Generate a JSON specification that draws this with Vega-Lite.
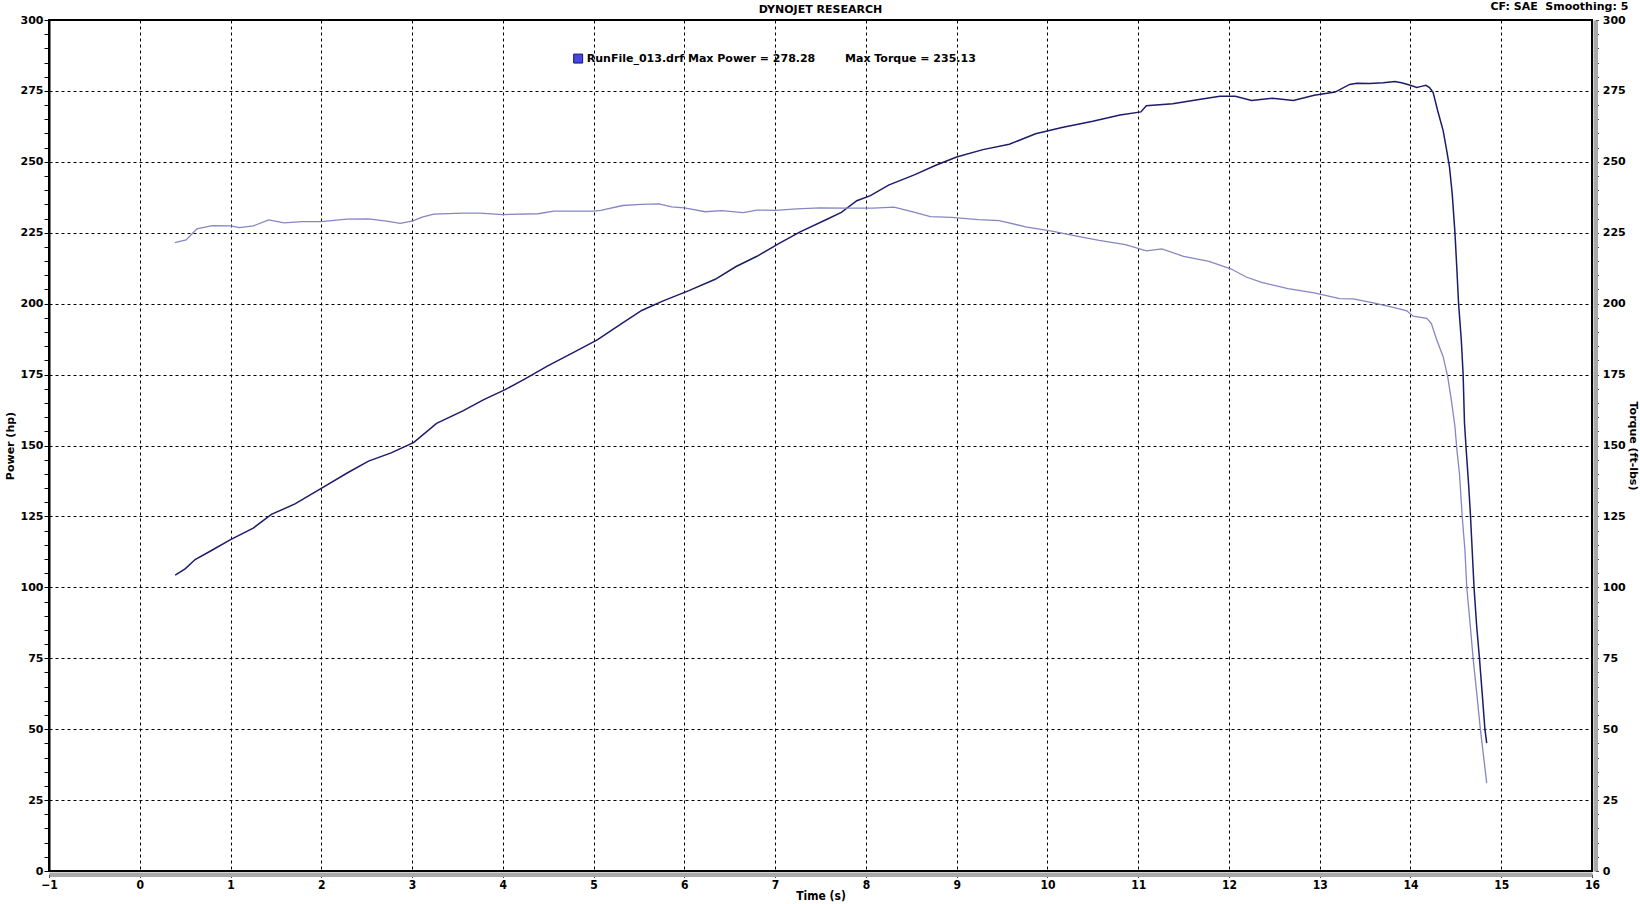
{
  "$schema": "https://vega.github.io/schema/vega-lite/v6.json",
  "width": 1543,
  "height": 851,
  "autosize": {"type": "none"},
  "padding": {"left": 49, "top": 20, "right": 48, "bottom": 33},
  "background": "white",
  "datasets": {
    "power": [
      {"time": 0.39, "hp": 104.3}, {"time": 0.5, "hp": 106.5}, {"time": 0.61, "hp": 109.8},
      {"time": 0.78, "hp": 112.8}, {"time": 1.0, "hp": 116.8}, {"time": 1.25, "hp": 120.9},
      {"time": 1.45, "hp": 125.7}, {"time": 1.71, "hp": 129.4}, {"time": 2.0, "hp": 134.9},
      {"time": 2.29, "hp": 140.4}, {"time": 2.52, "hp": 144.5}, {"time": 2.77, "hp": 147.4},
      {"time": 3.02, "hp": 151.1}, {"time": 3.27, "hp": 157.8}, {"time": 3.56, "hp": 162.2},
      {"time": 3.79, "hp": 166.2}, {"time": 4.02, "hp": 169.6}, {"time": 4.25, "hp": 173.6},
      {"time": 4.49, "hp": 178.0}, {"time": 4.78, "hp": 182.8}, {"time": 5.04, "hp": 187.2},
      {"time": 5.3, "hp": 192.8}, {"time": 5.53, "hp": 197.6}, {"time": 5.76, "hp": 200.9},
      {"time": 6.05, "hp": 204.6}, {"time": 6.34, "hp": 208.6}, {"time": 6.57, "hp": 213.1},
      {"time": 6.8, "hp": 216.7}, {"time": 7.04, "hp": 221.2}, {"time": 7.27, "hp": 225.2},
      {"time": 7.56, "hp": 229.6}, {"time": 7.73, "hp": 232.2}, {"time": 7.9, "hp": 236.3},
      {"time": 8.05, "hp": 238.1}, {"time": 8.25, "hp": 241.8}, {"time": 8.54, "hp": 245.5},
      {"time": 8.77, "hp": 248.8}, {"time": 9.0, "hp": 251.7}, {"time": 9.29, "hp": 254.3},
      {"time": 9.58, "hp": 256.2}, {"time": 9.87, "hp": 259.9}, {"time": 10.16, "hp": 262.1},
      {"time": 10.5, "hp": 264.3}, {"time": 10.8, "hp": 266.5}, {"time": 11.03, "hp": 267.6},
      {"time": 11.09, "hp": 269.8}, {"time": 11.38, "hp": 270.5}, {"time": 11.67, "hp": 272.0},
      {"time": 11.9, "hp": 273.1}, {"time": 12.07, "hp": 273.1}, {"time": 12.25, "hp": 271.6},
      {"time": 12.48, "hp": 272.4}, {"time": 12.71, "hp": 271.6}, {"time": 12.94, "hp": 273.5},
      {"time": 13.17, "hp": 274.6}, {"time": 13.33, "hp": 277.3}, {"time": 13.41, "hp": 277.7},
      {"time": 13.55, "hp": 277.6}, {"time": 13.7, "hp": 277.9}, {"time": 13.83, "hp": 278.3},
      {"time": 13.9, "hp": 277.9}, {"time": 13.99, "hp": 277.1}, {"time": 14.07, "hp": 276.2},
      {"time": 14.12, "hp": 276.6}, {"time": 14.17, "hp": 277.0}, {"time": 14.21, "hp": 276.2},
      {"time": 14.25, "hp": 274.4}, {"time": 14.3, "hp": 268.0}, {"time": 14.36, "hp": 261.0},
      {"time": 14.4, "hp": 253.9}, {"time": 14.43, "hp": 248.1}, {"time": 14.46, "hp": 238.7},
      {"time": 14.49, "hp": 225.0}, {"time": 14.51, "hp": 212.9}, {"time": 14.53, "hp": 200.0},
      {"time": 14.56, "hp": 187.2}, {"time": 14.58, "hp": 175.1}, {"time": 14.595, "hp": 158.0},
      {"time": 14.615, "hp": 148.0}, {"time": 14.64, "hp": 136.5}, {"time": 14.66, "hp": 126.0},
      {"time": 14.68, "hp": 113.1}, {"time": 14.7, "hp": 100.1}, {"time": 14.73, "hp": 86.1},
      {"time": 14.76, "hp": 75.0}, {"time": 14.79, "hp": 62.7}, {"time": 14.82, "hp": 50.0},
      {"time": 14.84, "hp": 45.1}
    ],
    "torque": [
      {"time": 0.386, "tq": 221.5}, {"time": 0.51, "tq": 222.5}, {"time": 0.63, "tq": 226.4},
      {"time": 0.8, "tq": 227.5}, {"time": 1.0, "tq": 227.4}, {"time": 1.1, "tq": 226.8},
      {"time": 1.25, "tq": 227.4}, {"time": 1.42, "tq": 229.5}, {"time": 1.59, "tq": 228.5},
      {"time": 1.79, "tq": 228.9}, {"time": 2.0, "tq": 228.9}, {"time": 2.28, "tq": 229.8},
      {"time": 2.52, "tq": 229.9}, {"time": 2.72, "tq": 229.1}, {"time": 2.87, "tq": 228.3},
      {"time": 3.01, "tq": 229.2}, {"time": 3.11, "tq": 230.5}, {"time": 3.24, "tq": 231.6},
      {"time": 3.56, "tq": 231.9}, {"time": 3.75, "tq": 231.9}, {"time": 4.0, "tq": 231.4},
      {"time": 4.39, "tq": 231.7}, {"time": 4.56, "tq": 232.6}, {"time": 5.0, "tq": 232.6},
      {"time": 5.08, "tq": 232.9}, {"time": 5.32, "tq": 234.6}, {"time": 5.52, "tq": 235.0},
      {"time": 5.72, "tq": 235.2}, {"time": 5.86, "tq": 234.1}, {"time": 6.0, "tq": 233.8},
      {"time": 6.23, "tq": 232.4}, {"time": 6.41, "tq": 232.8}, {"time": 6.65, "tq": 232.1},
      {"time": 6.8, "tq": 233.0}, {"time": 7.0, "tq": 232.9}, {"time": 7.24, "tq": 233.4},
      {"time": 7.49, "tq": 233.8}, {"time": 7.78, "tq": 233.7}, {"time": 8.08, "tq": 233.7},
      {"time": 8.31, "tq": 234.0}, {"time": 8.54, "tq": 232.2}, {"time": 8.71, "tq": 230.7},
      {"time": 8.94, "tq": 230.4}, {"time": 9.24, "tq": 229.6}, {"time": 9.47, "tq": 229.3},
      {"time": 9.76, "tq": 227.1}, {"time": 10.05, "tq": 225.6}, {"time": 10.28, "tq": 224.1},
      {"time": 10.57, "tq": 222.3}, {"time": 10.86, "tq": 220.8}, {"time": 11.09, "tq": 218.6},
      {"time": 11.26, "tq": 219.3}, {"time": 11.5, "tq": 216.7}, {"time": 11.78, "tq": 214.9},
      {"time": 12.02, "tq": 212.3}, {"time": 12.19, "tq": 209.4}, {"time": 12.36, "tq": 207.5},
      {"time": 12.65, "tq": 205.3}, {"time": 12.94, "tq": 203.8}, {"time": 13.22, "tq": 201.8},
      {"time": 13.37, "tq": 201.7}, {"time": 13.59, "tq": 200.3}, {"time": 13.81, "tq": 198.7},
      {"time": 13.96, "tq": 197.5}, {"time": 14.03, "tq": 195.6}, {"time": 14.18, "tq": 194.8},
      {"time": 14.23, "tq": 193.0}, {"time": 14.29, "tq": 187.2}, {"time": 14.36, "tq": 181.3},
      {"time": 14.41, "tq": 174.3}, {"time": 14.45, "tq": 166.1}, {"time": 14.49, "tq": 156.7},
      {"time": 14.51, "tq": 149.0}, {"time": 14.54, "tq": 140.0}, {"time": 14.57, "tq": 125.0},
      {"time": 14.6, "tq": 113.1}, {"time": 14.62, "tq": 100.1}, {"time": 14.66, "tq": 86.1},
      {"time": 14.69, "tq": 75.0}, {"time": 14.73, "tq": 62.7}, {"time": 14.77, "tq": 50.0},
      {"time": 14.81, "tq": 39.2}, {"time": 14.84, "tq": 31.0}
    ],
    "legend": [
      {"time": 4.925, "val": 286.2, "label": "RunFile_013.drf Max Power = 278.28"},
      {"time": 7.77, "val": 286.2, "label": "Max Torque = 235.13"}
    ],
    "swatch": [
      {"time": 4.83, "val": 286.4}
    ],
    "heading": [
      {"time": 7.5, "val": 303.7, "label": "DYNOJET RESEARCH"}
    ],
    "corner": [
      {"time": 16.4, "val": 304.6, "label": "CF: SAE\u00a0 Smoothing: 5"}
    ]
  },
  "layer": [
    {
      "data": {"name": "power"},
      "mark": {"type": "line", "color": "#1c1c6b", "strokeWidth": 1.5},
      "encoding": {
        "x": {
          "field": "time",
          "type": "quantitative",
          "scale": {"domain": [-1, 16], "nice": false, "zero": false},
          "axis": {
            "title": "Time (s)",
            "tickCount": 85,
            "format": "d",
            "labelExpr": "datum.value === round(datum.value) ? datum.label : ''",
            "labelOverlap": false,
            "labelFlush": false,
            "offset": 3.25,
            "domainColor": "#a9a9a9",
            "domainWidth": 4.5,
            "tickSize": 3,
            "grid": true,
            "gridColor": "black",
            "gridDash": [3, 3],
            "gridOpacity": {"condition": {"test": "datum.value === round(datum.value) && datum.value > -1 && datum.value < 16", "value": 1}, "value": 0},
            "labelFont": "DejaVu Sans Condensed, Roboto Condensed, Roboto",
            "labelFontSize": 12,
            "labelFontWeight": "bold",
            "labelPadding": 2,
            "titleFont": "DejaVu Sans Condensed, Roboto Condensed, Roboto",
            "titleFontSize": 12,
            "titleFontWeight": "bold",
            "titlePadding": 0
          }
        },
        "y": {
          "field": "hp",
          "type": "quantitative",
          "scale": {"domain": [0, 300], "nice": false},
          "axis": {
            "orient": "left",
            "title": "Power (hp)",
            "tickCount": 60,
            "format": "d",
            "labelExpr": "datum.value % 25 === 0 ? datum.label : ''",
            "labelOverlap": false,
            "labelFlush": false,
            "grid": true,
            "gridColor": "black",
            "gridDash": [3, 3],
            "gridOpacity": {"condition": {"test": "datum.value % 25 === 0 && datum.value > 0 && datum.value < 300", "value": 1}, "value": 0},
            "labelPadding": 1,
            "titlePadding": 5
          }
        }
      }
    },
    {
      "data": {"name": "torque"},
      "mark": {"type": "line", "color": "#8686c4", "strokeWidth": 1.3},
      "encoding": {
        "x": {"field": "time", "type": "quantitative"},
        "y": {
          "field": "tq",
          "type": "quantitative",
          "scale": {"domain": [0, 300], "nice": false},
          "axis": {
            "orient": "right",
            "title": "Torque (ft-lbs)",
            "titleAngle": 90,
            "tickCount": 60,
            "format": "d",
            "labelExpr": "datum.value % 25 === 0 ? datum.label : ''",
            "labelOverlap": false,
            "labelFlush": false,
            "offset": 3.25,
            "domainColor": "#a9a9a9",
            "domainWidth": 4.5,
            "tickSize": 3,
            "grid": false,
            "labelPadding": 4,
            "titlePadding": 2
          }
        }
      }
    },
    {
      "data": {"name": "swatch"},
      "mark": {"type": "square", "filled": true, "color": "#4848e0", "stroke": "#101080", "strokeWidth": 1, "size": 80, "opacity": 1},
      "encoding": {
        "x": {"field": "time", "type": "quantitative"},
        "y": {"field": "val", "type": "quantitative", "scale": {"domain": [0, 300], "nice": false}, "axis": null}
      }
    },
    {
      "data": {"name": "legend"},
      "mark": {"type": "text", "align": "left", "baseline": "middle", "font": "DejaVu Sans", "fontSize": 11, "fontWeight": "bold", "color": "black"},
      "encoding": {
        "x": {"field": "time", "type": "quantitative"},
        "y": {"field": "val", "type": "quantitative", "scale": {"domain": [0, 300], "nice": false}, "axis": null},
        "text": {"field": "label"}
      }
    },
    {
      "data": {"name": "heading"},
      "mark": {"type": "text", "align": "center", "baseline": "middle", "font": "DejaVu Sans", "fontSize": 11, "fontWeight": "bold", "color": "black"},
      "encoding": {
        "x": {"field": "time", "type": "quantitative"},
        "y": {"field": "val", "type": "quantitative", "scale": {"domain": [0, 300], "nice": false}, "axis": null},
        "text": {"field": "label"}
      }
    },
    {
      "data": {"name": "corner"},
      "mark": {"type": "text", "align": "right", "baseline": "middle", "font": "DejaVu Sans", "fontSize": 11, "fontWeight": "bold", "color": "black"},
      "encoding": {
        "x": {"field": "time", "type": "quantitative"},
        "y": {"field": "val", "type": "quantitative", "scale": {"domain": [0, 300], "nice": false}, "axis": null},
        "text": {"field": "label"}
      }
    }
  ],
  "resolve": {"scale": {"y": "independent"}},
  "config": {
    "view": {"stroke": "black", "strokeWidth": 2},
    "axis": {
      "domainColor": "black",
      "domainWidth": 2,
      "tickColor": "black",
      "tickSize": 5,
      "tickWidth": 1,
      "labelColor": "black",
      "labelFont": "DejaVu Sans",
      "labelFontSize": 11,
      "labelFontWeight": "bold",
      "titleColor": "black",
      "titleFont": "DejaVu Sans",
      "titleFontSize": 11,
      "titleFontWeight": "bold"
    }
  }
}
